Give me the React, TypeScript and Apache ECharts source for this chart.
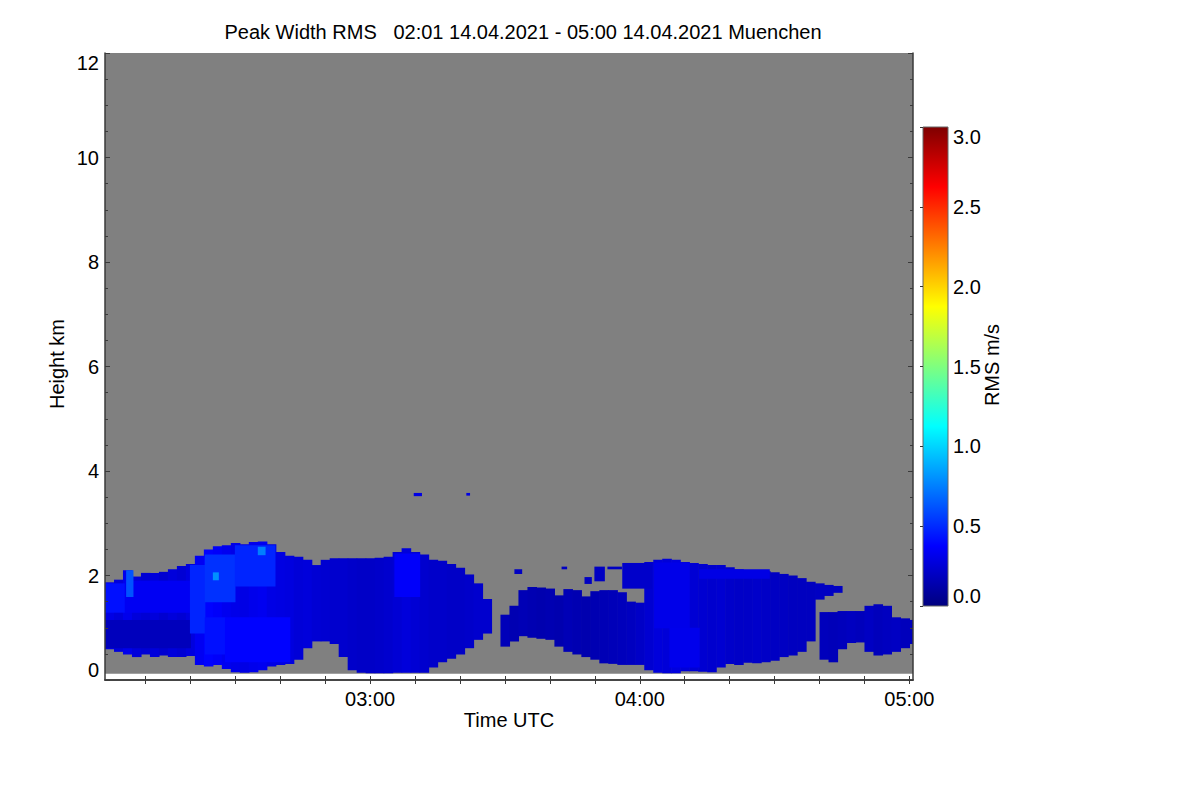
import React, { useEffect, useRef } from "react";
import * as echarts from "echarts";

// ---------- texts ----------
const TITLE = "Peak Width RMS   02:01 14.04.2021 - 05:00 14.04.2021 Muenchen";
const X_NAME = "Time UTC";
const Y_NAME = "Height km";
const CBAR_NAME = "RMS m/s";

// ---------- axes (time in minutes after 02:00 UTC, height in km) ----------
const X_MIN = 1;
const X_MAX = 180.8;
const HOUR_TICKS = [60, 120, 180];
const TEN_MIN_TICKS = [10, 20, 30, 40, 50, 60, 70, 80, 90, 100, 110, 120, 130, 140, 150, 160, 170, 180];
const Y_MIN = 0;
const Y_MAX = 12;
const Y_STEP = 2;
const GATE_MIN = 0.13; // lowest range gate (below: no data, white)
const RMS_MIN = 0;
const RMS_MAX = 3;
const RMS_STEP = 0.5;
const COL_WIDTH = 2; // minutes per profile column

// jet colour table
const JET = ["#00007f", "#0000ff", "#007fff", "#00ffff", "#7fff7f", "#ffff00", "#ff7f00", "#ff0000", "#7f0000"];

// ---------- cloud 1 (02:01 - 03:27) ----------
const CLOUD1_START = [1, 3, 5, 7, 9, 11, 13, 15, 17, 19, 21, 23, 25, 27, 29, 31, 33, 35, 37, 39, 41, 43, 45, 47, 49, 51, 53, 55, 57, 59, 61, 63, 65, 67, 69, 71, 73, 75, 77, 79, 81, 83, 85];
const CLOUD1_TOP = [1.87, 1.92, 2.1, 1.98, 2.05, 2.05, 2.07, 2.12, 2.18, 2.22, 2.38, 2.5, 2.56, 2.58, 2.62, 2.6, 2.64, 2.65, 2.6, 2.45, 2.38, 2.36, 2.3, 2.2, 2.3, 2.33, 2.33, 2.33, 2.33, 2.33, 2.34, 2.36, 2.45, 2.52, 2.45, 2.4, 2.3, 2.28, 2.22, 2.15, 2.02, 1.85, 1.55];
const CLOUD1_BASE = [0.6, 0.55, 0.5, 0.45, 0.5, 0.45, 0.48, 0.45, 0.45, 0.47, 0.3, 0.27, 0.3, 0.22, 0.16, 0.15, 0.16, 0.2, 0.27, 0.3, 0.32, 0.4, 0.62, 0.75, 0.75, 0.7, 0.45, 0.2, 0.15, 0.14, 0.14, 0.14, 0.15, 0.15, 0.15, 0.15, 0.25, 0.35, 0.42, 0.5, 0.62, 0.78, 0.9];
const CLOUD1_RMS = [0.3, 0.27, 0.32, 0.27, 0.25, 0.27, 0.24, 0.27, 0.25, 0.28, 0.34, 0.38, 0.36, 0.33, 0.31, 0.3, 0.32, 0.33, 0.3, 0.29, 0.28, 0.26, 0.27, 0.25, 0.24, 0.23, 0.23, 0.22, 0.21, 0.21, 0.22, 0.23, 0.25, 0.27, 0.25, 0.23, 0.22, 0.22, 0.21, 0.21, 0.22, 0.23, 0.23];

// ---------- cloud 2 (03:29 - 04:44) ----------
const CLOUD2_START = [89, 91, 93, 95, 97, 99, 101, 103, 105, 107, 109, 111, 113, 115, 117, 119, 121, 123, 125, 127, 129, 131, 133, 135, 137, 139, 141, 143, 145, 147, 149, 151, 153, 155, 157, 159, 161, 163];
const CLOUD2_TOP = [1.25, 1.42, 1.72, 1.78, 1.77, 1.75, 1.62, 1.74, 1.72, 1.6, 1.7, 1.72, 1.72, 1.68, 1.5, 1.48, 2.26, 2.3, 2.32, 2.3, 2.26, 2.24, 2.22, 2.2, 2.2, 2.16, 2.12, 2.1, 2.08, 2.08, 2.06, 2.03, 2.0, 1.95, 1.88, 1.85, 1.82, 1.8];
const CLOUD2_BASE = [0.65, 0.75, 0.85, 0.82, 0.8, 0.78, 0.65, 0.55, 0.5, 0.45, 0.4, 0.33, 0.32, 0.3, 0.3, 0.3, 0.2, 0.15, 0.14, 0.14, 0.18, 0.18, 0.17, 0.16, 0.25, 0.32, 0.3, 0.34, 0.33, 0.35, 0.38, 0.45, 0.48, 0.55, 0.75, 1.55, 1.62, 1.68];
const CLOUD2_RMS = [0.17, 0.15, 0.16, 0.15, 0.14, 0.15, 0.14, 0.16, 0.15, 0.14, 0.15, 0.16, 0.17, 0.18, 0.19, 0.21, 0.24, 0.27, 0.26, 0.28, 0.26, 0.25, 0.24, 0.23, 0.24, 0.22, 0.21, 0.21, 0.22, 0.21, 0.2, 0.2, 0.19, 0.19, 0.19, 0.2, 0.2, 0.2];

// ---------- cloud 3 (04:40 - 05:00) ----------
const CLOUD3_START = [160, 162, 164, 166, 168, 170, 172, 174, 176, 178, 180];
const CLOUD3_TOP = [1.3, 1.3, 1.32, 1.32, 1.32, 1.42, 1.45, 1.42, 1.2, 1.18, 1.15];
const CLOUD3_BASE = [0.4, 0.35, 0.6, 0.72, 0.73, 0.55, 0.48, 0.5, 0.55, 0.62, 0.7];
const CLOUD3_RMS = [0.18, 0.17, 0.18, 0.19, 0.18, 0.2, 0.18, 0.19, 0.2, 0.18, 0.18];

// ---------- small fragments [t0, t1, h0, h1, rms] ----------
const FRAGMENTS = [
  [69.7, 71.4, 3.53, 3.58, 0.3],
  [81.4, 82.1, 3.54, 3.58, 0.3],
  [92.1, 93.7, 2.04, 2.12, 0.2],
  [102.6, 103.7, 2.13, 2.17, 0.2],
  [107.7, 109.2, 1.85, 1.97, 0.2],
  [109.9, 112.1, 1.9, 2.17, 0.2],
  [112.8, 115.9, 2.13, 2.17, 0.2],
  [116.1, 122.6, 1.76, 2.24, 0.22],
];

// ---------- regions of distinct RMS inside the clouds [t0, t1, h0, h1, rms] ----------
const REGIONS = [
  [1, 20, 0.62, 1.15, 0.18],
  [1, 5.4, 1.3, 1.85, 0.42],
  [5.4, 19.9, 1.3, 1.9, 0.34],
  [5.7, 7.2, 1.6, 2.1, 0.62],
  [19.9, 23.2, 0.9, 2.2, 0.48],
  [23.2, 27.7, 0.5, 1.2, 0.42],
  [23.2, 29.9, 1.5, 2.4, 0.52],
  [25, 26.2, 1.92, 2.06, 0.8],
  [29.9, 38.8, 1.8, 2.58, 0.48],
  [35, 36.6, 2.4, 2.55, 0.75],
  [27.7, 42.1, 0.35, 1.2, 0.38],
  [65.4, 71, 1.6, 2.42, 0.36],
  [123.2, 131, 1.0, 2.25, 0.31],
  [126.6, 133.2, 0.25, 1.0, 0.32],
  [133.2, 148.8, 1.95, 2.12, 0.3],
];

const FONT = '"Liberation Sans", Arial, Helvetica, sans-serif';
const FONT_SIZE = 20;
const AXIS_COLOR = "#3a3a3a";

function columns(starts: number[], base: number[], top: number[], rms: number[]) {
  return starts.map((s, i) => [s, s + COL_WIDTH, base[i], top[i], rms[i]]);
}

function fmtTime(m: number) {
  const h = Math.floor(m / 60) + 2;
  const mm = Math.round(m % 60);
  return String(h).padStart(2, "0") + ":" + String(mm).padStart(2, "0");
}

export default function App() {
  const ref = useRef<HTMLDivElement>(null);

  useEffect(() => {
    if (!ref.current) return;
    const chart = echarts.init(ref.current, undefined, { renderer: "svg" });

    const cloudData = [
      ...columns(CLOUD1_START, CLOUD1_BASE, CLOUD1_TOP, CLOUD1_RMS),
      ...columns(CLOUD2_START, CLOUD2_BASE, CLOUD2_TOP, CLOUD2_RMS),
      ...columns(CLOUD3_START, CLOUD3_BASE, CLOUD3_TOP, CLOUD3_RMS),
      ...FRAGMENTS,
      ...REGIONS,
    ];

    const rectItem = (fill: string) => (params: any, api: any) => {
      const p0 = api.coord([api.value(0), api.value(3)]);
      const p1 = api.coord([api.value(1), api.value(2)]);
      return {
        type: "rect",
        shape: { x: p0[0], y: p0[1], width: p1[0] - p0[0] + 0.6, height: p1[1] - p0[1] + 0.6 },
        style: { fill: fill || api.visual("color") },
      };
    };

    const jetStops = JET.map((c, i) => ({ offset: i / (JET.length - 1), color: c }));
    const labelStyle = { fontFamily: FONT, fontSize: FONT_SIZE, color: "#000" };
    const font = `${FONT_SIZE}px ${FONT}`;

    chart.setOption({
      animation: false,
      backgroundColor: "#ffffff",
      grid: [
        { left: 105, top: 53, width: 808, height: 627 },
        { left: 923, top: 127, width: 25, height: 479 },
      ],
      xAxis: [
        {
          type: "value", gridIndex: 0, position: "bottom", min: X_MIN, max: X_MAX,
          axisLine: { show: true, lineStyle: { color: AXIS_COLOR, width: 1.5 } },
          axisTick: { show: true, inside: true, length: 4, customValues: TEN_MIN_TICKS, lineStyle: { color: AXIS_COLOR } },
          axisLabel: { ...labelStyle, margin: 9, customValues: HOUR_TICKS, formatter: (v: number) => fmtTime(v) },
          splitLine: { show: false },
        },
        {
          type: "value", gridIndex: 0, position: "top", min: X_MIN, max: X_MAX,
          axisLine: { show: true, lineStyle: { color: AXIS_COLOR, width: 1.5 } },
          axisTick: { show: true, inside: true, length: 4, customValues: TEN_MIN_TICKS, lineStyle: { color: AXIS_COLOR } },
          axisLabel: { show: false },
          splitLine: { show: false },
        },
        { type: "value", gridIndex: 1, min: 0, max: 1, show: false },
      ],
      yAxis: [
        {
          type: "value", gridIndex: 0, position: "left", min: Y_MIN, max: Y_MAX, interval: Y_STEP,
          axisLine: { show: true, lineStyle: { color: AXIS_COLOR, width: 1.5 } },
          axisTick: { show: true, inside: true, length: 5, lineStyle: { color: AXIS_COLOR } },
          minorTick: { show: true, splitNumber: 4, length: 3, lineStyle: { color: AXIS_COLOR } },
          axisLabel: { ...labelStyle, margin: 6, verticalAlignMinLabel: "bottom", verticalAlignMaxLabel: "top" },
          splitLine: { show: false },
          z: 5,
        },
        {
          type: "value", gridIndex: 0, position: "right", min: Y_MIN, max: Y_MAX, interval: Y_STEP,
          axisLine: { show: true, lineStyle: { color: AXIS_COLOR, width: 1.5 } },
          axisTick: { show: true, inside: true, length: 5, lineStyle: { color: AXIS_COLOR } },
          minorTick: { show: true, splitNumber: 4, length: 3, lineStyle: { color: AXIS_COLOR } },
          axisLabel: { show: false },
          splitLine: { show: false },
          z: 5,
        },
        {
          type: "value", gridIndex: 1, position: "right", min: RMS_MIN, max: RMS_MAX, interval: RMS_STEP,
          axisLine: { show: false },
          axisTick: { show: true, inside: true, length: 3, lineStyle: { color: "#333" } },
          axisLabel: { ...labelStyle, margin: 5, formatter: (v: number) => v.toFixed(1), verticalAlignMinLabel: "bottom", verticalAlignMaxLabel: "top" },
          splitLine: { show: false },
          z: 5,
        },
      ],
      visualMap: {
        type: "continuous", show: false, min: RMS_MIN, max: RMS_MAX, dimension: 4, seriesIndex: 1,
        inRange: { color: JET },
      },
      graphic: [
        {
          type: "rect", z: 1,
          shape: { x: 923, y: 127, width: 25, height: 479 },
          style: {
            fill: { type: "linear", x: 0, y: 1, x2: 0, y2: 0, colorStops: jetStops },
            stroke: "#666", lineWidth: 1,
          },
        },
        {
          type: "text", x: 523, y: 32,
          style: { text: TITLE, font, fill: "#000", align: "center", verticalAlign: "middle" },
        },
        {
          type: "text", x: 509, y: 720,
          style: { text: X_NAME, font, fill: "#000", align: "center", verticalAlign: "middle" },
        },
        {
          type: "text", x: 57, y: 364, rotation: Math.PI / 2,
          style: { text: Y_NAME, font, fill: "#000", align: "center", verticalAlign: "middle" },
        },
        {
          type: "text", x: 992, y: 365, rotation: Math.PI / 2,
          style: { text: CBAR_NAME, font, fill: "#000", align: "center", verticalAlign: "middle" },
        },
      ],
      series: [
        {
          type: "custom", name: "no data", xAxisIndex: 0, yAxisIndex: 0, clip: true,
          renderItem: rectItem("#808080"),
          encode: { x: [0, 1], y: [2, 3] },
          data: [[X_MIN, X_MAX, GATE_MIN, Y_MAX]],
          silent: true,
        },
        {
          type: "custom", name: "RMS", xAxisIndex: 0, yAxisIndex: 0, clip: true,
          renderItem: rectItem(""),
          encode: { x: [0, 1], y: [2, 3] },
          data: cloudData,
          silent: true,
        },
      ],
    });

    return () => chart.dispose();
  }, []);

  return <div ref={ref} style={{ position: "absolute", left: 0, top: 0, width: 1200, height: 800 }} />;
}
